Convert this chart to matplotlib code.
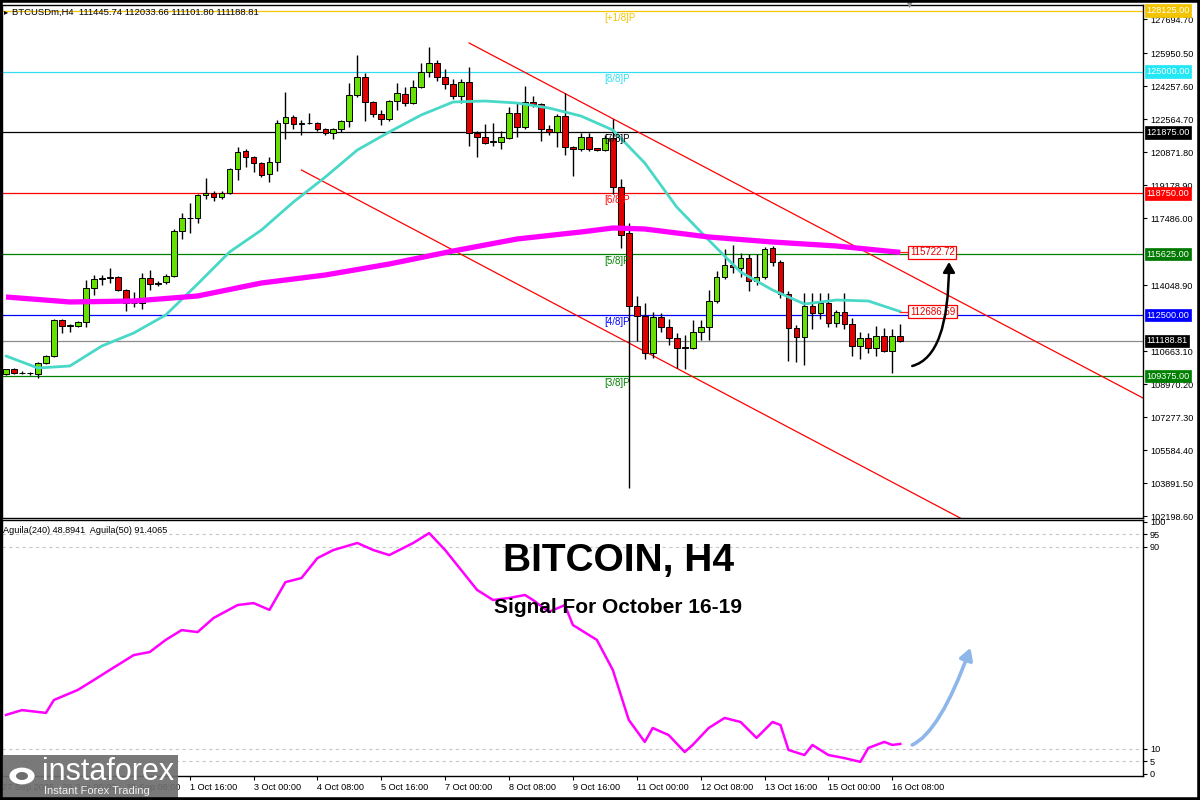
import matplotlib
matplotlib.use('Agg')
import matplotlib.pyplot as plt
import numpy as np
from matplotlib.patches import FancyArrowPatch, Rectangle
from matplotlib.transforms import offset_copy

plt.rcParams['font.family'] = ['Liberation Sans', 'DejaVu Sans']

# ---------------- data ----------------
symbol_header = "BTCUSDm,H4  111445.74 112033.66 111101.80 111188.81"
osc_header = "Aguila(240) 48.8941  Aguila(50) 91.4065"

opens = [109466, 109722, 109517, 109551, 109466, 110064, 110406, 112253, 111945, 111945,
         112167, 113877, 114356, 114400, 114442, 113792, 113108, 113142, 114391, 114083,
         114185, 114527, 116819, 117468, 117468, 118648, 118785, 118546, 118785, 119982,
         120923, 120598, 120290, 119726, 120375, 122342, 122684, 122308, 122342, 122342,
         122034, 121829, 122034, 122462, 123796, 124702, 123420, 122821, 122582, 123488,
         123830, 123368, 124223, 124993, 125420, 124702, 124343, 123744, 124480, 121863,
         121658, 121380, 121402, 121572, 122889, 122137, 123420, 123317, 122034, 121915,
         122736, 121145, 121009, 121658, 121060, 120974, 121572, 119076, 116716, 112971,
         112458, 110560, 112407, 111894, 111330, 110816, 110816, 111638, 111894, 113228,
         114459, 115075, 114921, 115459, 114254, 114459, 115947, 115229, 113587, 111843,
         111381, 112971, 112612, 113125, 112099, 112663, 112048, 110919, 111330, 110816,
         111433, 110663, 111445.74]
highs = [109750, 109800, 109620, 109600, 110100, 110450, 112300, 112300, 112050, 112200,
         114305, 114562, 114562, 114904, 114500, 113850, 113706, 114650, 114818, 114250,
         114600, 116900, 117725, 118272, 118700, 119521, 118850, 118850, 120050, 121111,
         121043, 120650, 120350, 120598, 122513, 123967, 122750, 122513, 122889, 122400,
         122100, 122100, 122500, 124394, 125848, 124907, 123480, 123026, 123550, 124394,
         124223, 124565, 125420, 126275, 125591, 125112, 124599, 124599, 125215, 121950,
         122308, 122342, 121966, 123197, 123368, 124257, 123744, 123380, 122257, 122821,
         123881, 121200, 121829, 121829, 121100, 121744, 122565, 119487, 117229, 113484,
         113125, 112663, 112612, 112304, 111586, 111484, 112253, 112253, 113792, 114767,
         115896, 116101, 115690, 115639, 115639, 115998, 116049, 115331, 113741, 112007,
         113638, 113638, 113638, 113638, 112766, 113638, 112356, 111638, 111586, 111946,
         111843, 111792, 112033.66]
lows = [109420, 109480, 109480, 109420, 109261, 110000, 110350, 111603, 111654, 111900,
        111911, 113535, 114048, 114134, 113750, 112731, 112937, 112800, 113792, 114000,
        114100, 114450, 116391, 116733, 117246, 118443, 118341, 118480, 118700, 119435,
        120119, 119862, 119600, 119315, 119914, 121521, 122034, 121744, 122300, 121950,
        121744, 121521, 121915, 122171, 123710, 122479, 122650, 122257, 122462, 123026,
        123231, 123317, 124138, 124736, 124531, 124086, 123573, 123368, 121180, 120598,
        121282, 121180, 121009, 121521, 121658, 122034, 123197, 121453, 121744, 121111,
        120718, 119658, 120940, 120940, 120920, 120923, 118717, 115947, 103635, 111176,
        110253, 110304, 111638, 110971, 109791, 109740, 110765, 111227, 111227, 113150,
        114357, 114664, 114459, 113741, 114049, 114357, 115024, 113382, 110150, 110099,
        109946, 111792, 112304, 111894, 111894, 111792, 110407, 110253, 110560, 110407,
        110612, 109535, 111101.80]
closes = [109722, 109517, 109551, 109517, 110064, 110406, 112253, 111945, 111980, 112167,
          113877, 114356, 114380, 114442, 113792, 113108, 113142, 114391, 114083, 114134,
          114527, 116819, 117468, 117500, 118666, 118785, 118546, 118785, 119982, 120889,
          120598, 120290, 119691, 120375, 122342, 122684, 122308, 122342, 122370, 122034,
          121863, 122034, 122462, 123796, 124702, 123420, 122821, 122582, 123488, 123881,
          123368, 124223, 124993, 125420, 124702, 124343, 123744, 124480, 121863, 121658,
          121350, 121402, 121624, 122889, 122171, 123420, 123317, 122034, 121915, 122736,
          121145, 121009, 121658, 121009, 120974, 121572, 119059, 116614, 112971, 112458,
          110560, 112407, 111894, 111330, 110816, 110840, 111638, 111894, 113228, 114459,
          115075, 114972, 115459, 114254, 114459, 115896, 115229, 113587, 111843, 111381,
          112971, 112612, 113125, 112099, 112663, 112048, 110919, 111330, 110816, 111433,
          110663, 111433, 111188.81]

# fast MA (cyan) read at every 4th bar
ma_fast_bars = [0, 4, 8, 12, 16, 20, 24, 28, 32, 36, 40, 44, 48, 52, 56, 60, 64, 68,
                72, 76, 80, 84, 88, 92, 96, 100, 104, 108, 112]
ma_fast_vals = [110407, 109791, 109894, 110919, 111586, 112510, 114100, 115742, 116871,
                118307, 119590, 120974, 121898, 122770, 123437, 123488, 123385, 123129,
                122719, 121999, 120307, 118050, 116357, 114716, 113792, 113074, 113279,
                113228, 112686.59]
# slow MA (magenta)
ma_slow_bars = [0, 8, 16, 24, 32, 40, 48, 56, 64, 72, 76, 80, 88, 96, 104, 112]
ma_slow_vals = [113434, 113178, 113228, 113485, 114152, 114562, 115126, 115793, 116409,
                116768, 116973, 116922, 116512, 116255, 116050, 115722.72]

# Murrey levels
levels = [128125.00, 125000.00, 121875.00, 118750.00, 115625.00, 112500.00, 109375.00]
level_names = ['[+1/8]P', '[8/8]P', '[7/8]P', '[6/8]P', '[5/8]P', '[4/8]P', '[3/8]P']
level_colors = ['#F2C500', '#33DDF0', '#000000', '#FF0000', '#008000', '#0000FF', '#008000']
level_box_colors = ['#F2C500', '#22E8F5', '#000000', '#FF0000', '#007A00', '#0000FF', '#008000']
last_price = 111188.81

# channel lines (bar, price)
chan_upper = [(58, 126464), (142.4, 108252)]
chan_lower = [(37, 119948), (119.5, 102096)]

price_ticks = [127694.70, 125950.50, 124257.60, 122564.70, 120871.80, 119178.90, 117486.00,
               114048.90, 110663.10, 108970.20, 107277.30, 105584.40, 103891.50, 102198.60]

time_tick_bars = [-0.5, 7, 15, 23, 31, 39, 47, 55, 63, 71, 79, 87, 95, 103, 111]
time_tick_labels = ['27 Sep 2025', '29 Sep 00:00', '30 Sep 08:00', '1 Oct 16:00', '3 Oct 00:00',
                    '4 Oct 08:00', '5 Oct 16:00', '7 Oct 00:00', '8 Oct 08:00', '9 Oct 16:00',
                    '11 Oct 00:00', '12 Oct 08:00', '13 Oct 16:00', '15 Oct 00:00', '16 Oct 08:00']

osc_bars = [0, 2, 5, 6, 9, 11, 13, 16, 18, 20, 22, 24, 26, 29, 31, 33, 35, 37, 39, 41, 44,
            46, 48, 50, 51, 53, 55, 57, 59, 61, 63, 65, 66, 68, 70, 71, 74, 76, 78, 80, 81,
            83, 85, 86, 88, 90, 92, 94, 96, 97, 98, 100, 101, 103, 105, 107, 108, 110, 111, 112]
osc_vals = [23.4, 25.3, 24.2, 29.3, 33.3, 37.2, 41.2, 47.1, 48.3, 53.1, 57.0, 56.2, 61.8,
            66.9, 67.7, 65.0, 76.0, 77.6, 85.5, 88.7, 91.5, 88.7, 86.7, 89.9, 91.5, 95.4,
            88.7, 80.8, 72.9, 68.9, 69.7, 70.9, 68.9, 64.2, 66.9, 59.0, 53.1, 41.2, 21.4,
            12.7, 18.2, 15.4, 8.7, 11.5, 18.2, 22.2, 20.6, 14.3, 20.6, 19.4, 9.5, 7.5, 11.5,
            7.5, 6.3, 4.8, 10.3, 12.7, 11.5, 11.9]
osc_levels = [95, 90, 10, 5]
osc_ticks = [100, 95, 90, 10, 5, 0]

title_main = "BITCOIN, H4"
title_sub = "Signal For October 16-19"

# ---------------- figure ----------------
W, H = 1200, 800
fig = plt.figure(figsize=(12, 8), dpi=100)
fig.patch.set_facecolor('white')

def fx(px):
    return px / W

def fy(py):
    return 1 - py / H

ax = fig.add_axes([fx(2), fy(518), fx(1143) - fx(2), fy(5) - fy(518)])
axi = fig.add_axes([fx(2), fy(776), fx(1143) - fx(2), fy(520) - fy(776)])

XMIN, XMAX = -0.5, 142.4
for a in (ax, axi):
    a.set_xlim(XMIN, XMAX)
    a.set_facecolor('white')
    for s in a.spines.values():
        s.set_color('black')
        s.set_linewidth(1.0)

ax.set_ylim(102096, 128413)

# level lines
for lv, c in zip(levels, level_colors):
    ax.axhline(lv, color=c, lw=0.9, zorder=1)
ax.axhline(last_price, color='#8C8C8C', lw=0.9, zorder=1)

# channel
for ch in (chan_upper, chan_lower):
    ax.plot([ch[0][0], ch[1][0]], [ch[0][1], ch[1][1]], color='#FF0000', lw=0.9, zorder=2)

# candles
o = np.array(opens, float); h = np.array(highs, float)
l = np.array(lows, float); c = np.array(closes, float)
idx = np.arange(len(o))
ax.vlines(idx, l, h, color='black', lw=1.0, zorder=3)
up = c >= o
body_lo = np.minimum(o, c)
body_h = np.maximum(np.abs(c - o), 40)
ax.bar(idx[up], body_h[up], bottom=body_lo[up], width=0.72, color='#66E000',
       edgecolor='black', linewidth=0.7, zorder=4)
ax.bar(idx[~up], body_h[~up], bottom=body_lo[~up], width=0.72, color='#E00000',
       edgecolor='black', linewidth=0.7, zorder=4)

# MAs
ax.plot(ma_fast_bars, ma_fast_vals, color='#48D8C8', lw=2.0, zorder=5, solid_capstyle='round')
ax.plot(ma_slow_bars, ma_slow_vals, color='#FF00FF', lw=3.8, zorder=5, solid_capstyle='butt')

# MA value boxes
for val in (ma_slow_vals[-1], ma_fast_vals[-1]):
    ax.plot([ma_slow_bars[-1], 113.1], [val, val], color='#FF2020', lw=0.9, zorder=5)
    ax.text(113.2, val, f"{val:.2f}", ha='left', va='center', fontsize=7, color='#E00000',
            zorder=7, bbox=dict(boxstyle='square,pad=0.15', fc='white', ec='#FF0000', lw=0.9))

# Murrey labels
tr = offset_copy(ax.transData, fig=fig, x=0, y=-2, units='dots')
for lv, nm, col in zip(levels, level_names, level_colors):
    ax.text(74.9, lv, nm, transform=tr, ha='left', va='top', fontsize=7, color=col, zorder=6)

# right axis
ax.yaxis.tick_right()
ax.set_yticks(price_ticks)
ax.set_yticklabels([f"{v:.2f}" for v in price_ticks])
ax.tick_params(axis='y', length=3, width=0.8, labelsize=6.6, pad=2, colors='black')
ax.set_xticks([])

# level boxes on right axis
ytr = ax.get_yaxis_transform()
for lv, bc in zip(levels, level_box_colors):
    ax.text(1.0028, lv, f"{lv:.2f}", transform=ytr, ha='left', va='center', fontsize=6.6,
            color='white', zorder=20, clip_on=False,
            bbox=dict(boxstyle='square,pad=0.18', fc=bc, ec=bc, lw=0.5))
ax.text(1.0028, last_price, f"{last_price:.2f}", transform=ytr, ha='left', va='center',
        fontsize=6.6, color='white', zorder=20, clip_on=False,
        bbox=dict(boxstyle='square,pad=0.18', fc='black', ec='black', lw=0.5))

# black curved arrow
arr = FancyArrowPatch(posA=(113.5, 109894), posB=(118.1, 115229),
                      connectionstyle='angle3,angleA=15,angleB=90',
                      arrowstyle='-|>,head_length=6,head_width=3.5', lw=1.8, color='black',
                      zorder=8, shrinkA=0, shrinkB=0)
ax.add_patch(arr)

# header
fig.text(fx(12), fy(12), symbol_header, fontsize=6.8, ha='left', va='center', color='black')
fig.text(fx(4), fy(12), '\u25B8', fontsize=6, ha='left', va='center', color='black',
         family='DejaVu Sans')
fig.text(fx(910), fy(4), '\u25BC', fontsize=7, ha='center', va='center', color='#909090',
         family='DejaVu Sans')

# ---------------- oscillator ----------------
axi.set_ylim(-0.8, 100.6)
for lvv in osc_levels:
    axi.axhline(lvv, color='#C8C8C8', lw=0.8, ls=(0, (3, 3)), zorder=1)
axi.plot(osc_bars, osc_vals, color='#FF00FF', lw=1.8, zorder=3)
axi.yaxis.tick_right()
axi.set_yticks(osc_ticks)
axi.set_yticklabels([str(t) for t in osc_ticks])
axi.tick_params(axis='y', length=3, width=0.8, labelsize=6.6, pad=2)
axi.set_xticks(time_tick_bars)
axi.set_xticklabels(time_tick_labels)
axi.tick_params(axis='x', length=3, width=0.8, labelsize=6.6, pad=2)
for lbl in axi.get_xticklabels():
    lbl.set_ha('left')
axi.text(0.001, 0.975, osc_header, transform=axi.transAxes, ha='left', va='top',
         fontsize=6.6, color='black')

axi.text(0.54, (774 - 561) / 2.525, title_main, ha='center', va='center', fontsize=28,
         fontweight='bold', color='black', transform=axi.get_yaxis_transform(), zorder=6)
axi.text(0.54, (774 - 607) / 2.525, title_sub, ha='center', va='center', fontsize=15,
         fontweight='bold', color='black', transform=axi.get_yaxis_transform(), zorder=6)

barr = FancyArrowPatch(posA=(113.5, 11.5), posB=(120.8, 50.0),
                       connectionstyle='angle3,angleA=25,angleB=70',
                       arrowstyle='-|>,head_length=7,head_width=4', lw=2.6, color='#8DB6EA',
                       zorder=8, shrinkA=0, shrinkB=0)
axi.add_patch(barr)

# ---------------- logo ----------------
fig.patches.append(Rectangle((0, 0), fx(178), 1 - fy(45), transform=fig.transFigure,
                             fc='#6E6E6E', ec='none', alpha=0.92, zorder=30))
fig.patches.append(plt.Circle((fx(22), fy(776)), 0.0105, transform=fig.transFigure,
                              fc='white', ec='none', zorder=31))
fig.patches.append(plt.Circle((fx(22), fy(776)), 0.005, transform=fig.transFigure,
                              fc='#6E6E6E', ec='none', zorder=32))
fig.text(fx(42), fy(772), 'instaforex', fontsize=22, color='white', ha='left', va='center',
         zorder=33)
fig.text(fx(44), fy(791), 'Instant Forex Trading', fontsize=8, color='#F0F0F0', ha='left',
         va='center', zorder=33)

# outer border
fig.patches.append(Rectangle((0, 0), 1, 1, transform=fig.transFigure, fill=False,
                             ec='black', lw=4, zorder=40))

fig.savefig('out.png', dpi=100)
